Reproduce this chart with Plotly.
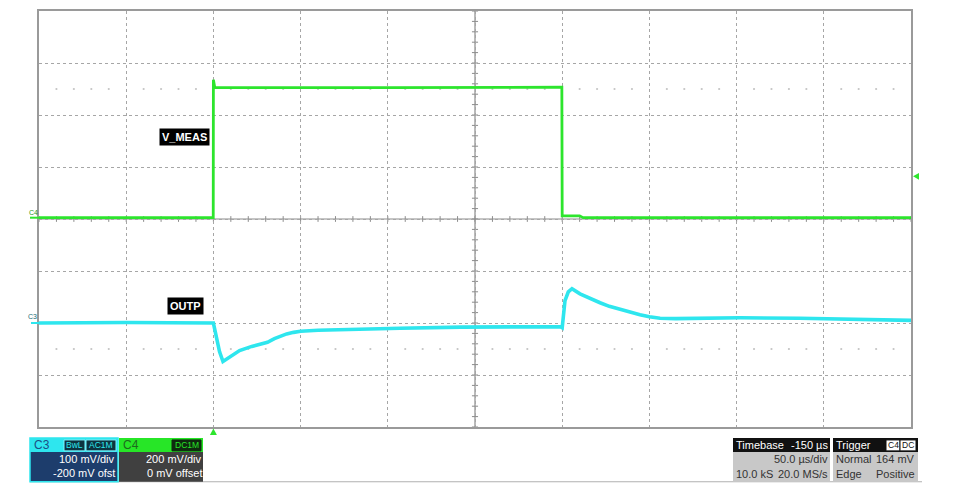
import plotly.graph_objects as go

# ---------------- data ----------------
# time in microseconds (trigger at t = 0), values in mV
t_c4 = [-100, -0.1, 0, 0.8, 100, 199.8, 200, 201, 210, 212, 300, 400]
v_c4 = [5, 5, 536, 505, 505, 507, 12, 12, 12, 5, 5, 5]

t_c3 = [-100, -50, 0, 1.5, 3.5, 5.5, 9, 15, 22, 31, 35, 38.6, 42, 46, 50, 60, 78, 107, 142, 199,
        200, 201.6, 203.5, 205.6, 210.2, 216, 221.7, 227, 233.2, 239, 244.6, 250, 256.1, 265,
        279, 302, 336, 370, 400]
v_c3 = [0, 1, 0, -24, -55, -74, -66, -53, -45, -37, -30, -25, -21, -18, -16, -14, -12, -10, -8,
        -7, -9, 43, 60, 66, 56, 47, 39, 32, 26, 20, 16, 12, 9, 8.5,
        9, 10, 9, 7, 5]

C3_SCALE, C3_OFFSET = 100, -200   # mV/div, mV
C4_SCALE, C4_OFFSET = 200, 0
TIME_DIV = 50                      # us/div
T_START = -100                     # left edge of screen (us)
TRIG_LEVEL = 164                   # mV on C4
N_XDIV, N_YDIV = 10, 8

y_c3 = [(v + C3_OFFSET) / C3_SCALE for v in v_c3]
y_c4 = [(v + C4_OFFSET) / C4_SCALE for v in v_c4]

T_END = T_START + N_XDIV * TIME_DIV
T_MID = (T_START + T_END) / 2

# ---------------- geometry helpers (page pixels) ----------------
OFF = 8                      # default page margin around the plot div
W, H = 953 - OFF, 498 - OFF
L, R, T, B = 39, 911, 9, 427
PW, PH = R - L, B - T


def px(x):
    return (x - L) / PW


def py(y):
    return (B - y) / PH


def tx(t):  # data time -> paper x
    return (t - T_START) / (T_END - T_START)


def dy(d):  # divisions -> paper y
    return (d + N_YDIV / 2) / N_YDIV


CYAN = "#2ee6ee"
GREEN = "#2de52d"
FONT = "Liberation Sans, Arial, sans-serif"

fig = go.Figure()

# rise-time dot rows at +/-2.5 div
dot_x, dot_y = [], []
for k in range(N_XDIV):
    for f in (0.2, 0.4, 0.6, 0.8):
        for yy in (2.5, -2.5):
            dot_x.append(T_START + (k + f) * TIME_DIV)
            dot_y.append(yy)
fig.add_trace(go.Scatter(x=dot_x, y=dot_y, mode="markers",
                         marker=dict(size=2.2, color="#c4c4c4"),
                         hoverinfo="skip", showlegend=False))

fig.add_trace(go.Scatter(x=t_c4, y=y_c4, mode="lines", name="V_MEAS",
                         line=dict(color=GREEN, width=2.8), showlegend=False))
fig.add_trace(go.Scatter(x=t_c3, y=y_c3, mode="lines", name="OUTP",
                         line=dict(color=CYAN, width=3.6), showlegend=False))

shapes = []
# centre cross
shapes.append(dict(type="line", xref="x", yref="y", x0=T_MID, x1=T_MID, y0=-4, y1=4,
                   line=dict(color="#8c8c8c", width=1.2), layer="below"))
shapes.append(dict(type="line", xref="x", yref="y", x0=T_START, x1=T_END, y0=0, y1=0,
                   line=dict(color="#8c8c8c", width=1.2), layer="below"))
# centre-cross ticks every 0.2 div
tick_h = 0.055
tick_w = 0.035 * TIME_DIV
for i in range(N_XDIV * 5 + 1):
    t = T_START + i * TIME_DIV / 5
    shapes.append(dict(type="line", xref="x", yref="y", x0=t, x1=t, y0=-tick_h, y1=tick_h,
                       line=dict(color="#8c8c8c", width=1), layer="below"))
for i in range(N_YDIV * 5 + 1):
    d = -N_YDIV / 2 + i * 0.2
    shapes.append(dict(type="line", xref="x", yref="y", x0=T_MID - tick_w, x1=T_MID + tick_w,
                       y0=d, y1=d, line=dict(color="#8c8c8c", width=1), layer="below"))

# channel ground stubs left of the grid
shapes.append(dict(type="line", xref="paper", yref="paper", x0=px(30), x1=px(39),
                   y0=dy(y_c4[0]), y1=dy(y_c4[0]), line=dict(color=GREEN, width=2)))
shapes.append(dict(type="line", xref="paper", yref="paper", x0=px(31), x1=px(39),
                   y0=dy(y_c3[0]), y1=dy(y_c3[0]), line=dict(color=CYAN, width=2)))

# trigger level marker (right) and trigger time marker (bottom)
ty = dy(TRIG_LEVEL / C4_SCALE)
shapes.append(dict(type="path", xref="paper", yref="paper", fillcolor=GREEN,
                   line=dict(color=GREEN, width=0),
                   path=f"M {px(913)},{ty} L {px(919)},{ty + 3.5 / PH} L {px(919)},{ty - 3.5 / PH} Z"))
txp = tx(0)
shapes.append(dict(type="path", xref="paper", yref="paper", fillcolor=GREEN,
                   line=dict(color=GREEN, width=0),
                   path=f"M {txp},{py(428.5)} L {txp - 3.5 / PW},{py(435)} L {txp + 3.5 / PW},{py(435)} Z"))


def rect(x0, y0, x1, y1, fill, line=None, lw=1):
    shapes.append(dict(type="rect", xref="paper", yref="paper",
                       x0=px(x0), x1=px(x1), y0=py(y1), y1=py(y0),
                       fillcolor=fill, line=dict(color=line or fill, width=lw if line else 0)))


anns = []


def text(x, y, s, color, anchor="left", size=11, bold=False):
    if bold:
        s = f"<b>{s}</b>"
    anns.append(dict(xref="paper", yref="paper", x=px(x), y=py(y), text=s,
                     showarrow=False, xanchor=anchor, yanchor="middle",
                     font=dict(color=color, size=size, family=FONT), borderpad=0))


# bottom info panel
shapes.append(dict(type="line", xref="paper", yref="paper", x0=px(30), x1=px(922),
                   y0=py(482), y1=py(482), line=dict(color="#b0b0b0", width=1.2)))

# C3 box
rect(30, 438, 118, 482, "#1d3d6c", CYAN, 1.5)
rect(30, 438, 118, 452, CYAN)
text(33, 445, "C3", "#1b4f86", size=12)
rect(64, 440, 85, 451, "#0d3440", "#7ff4ff", 1)
text(74.5, 445.5, "BwL", CYAN, "center", size=8.5)
rect(86, 440, 116, 451, "#0d3440", "#7ff4ff", 1)
text(101, 445.5, "AC1M", CYAN, "center", size=8.5)
text(116, 459, "100 mV/div", "#ffffff", "right")
text(116, 473, "-200 mV ofst", "#ffffff", "right")

# C4 box
rect(119, 438, 203, 482, "#404040")
rect(119, 438, 203, 452, "#27e627")
text(122, 445, "C4", "#1d6a1d", size=12)
rect(172, 440, 201, 451, "#0f2a0f", "#0f2a0f", 1)
text(186.5, 445.5, "DC1M", "#27e627", "center", size=8.5)
text(203, 459, "200 mV/div", "#ffffff", "right")
text(203, 473, "0 mV offset", "#ffffff", "right")

# Timebase box
rect(733, 438, 830, 482, "#c8c8c8")
rect(733, 438, 830, 452, "#111111")
text(735, 445, "Timebase", "#ffffff")
text(829, 445, "-150 µs", "#ffffff", "right")
text(829, 459, "50.0 µs/div", "#333333", "right")
text(735, 474, "10.0 kS", "#333333")
text(829, 474, "20.0 MS/s", "#333333", "right")

# Trigger box
rect(833, 438, 918, 482, "#c8c8c8")
rect(833, 438, 918, 452, "#111111")
text(835, 445, "Trigger", "#ffffff")
rect(886, 440, 900, 451, "#ffffff", "#111111", 1)
text(893, 445.5, "C4", "#111111", "center", size=8.5)
rect(900, 440, 916, 451, "#ffffff", "#111111", 1)
text(908, 445.5, "DC", "#111111", "center", size=8.5)
text(835, 459, "Normal", "#333333")
text(916, 459, "164 mV", "#333333", "right")
text(835, 474, "Edge", "#333333")
text(916, 474, "Positive", "#333333", "right")

# tiny channel tags left of the grid
text(28, 211, "C4", "#1f9a1f", size=7)
text(27, 315.5, "C3", "#1b6d77", size=7)

# trace labels
anns.append(dict(xref="x", yref="y", x=T_START + (184 - L) / PW * (T_END - T_START),
                 y=(218 - 135.5) / (PH / N_YDIV), text="<b>V_MEAS</b>", showarrow=False,
                 bgcolor="#000000", font=dict(color="#ffffff", size=11, family=FONT),
                 borderpad=2, xanchor="center", yanchor="middle"))
anns.append(dict(xref="x", yref="y", x=T_START + (185.5 - L) / PW * (T_END - T_START),
                 y=(218 - 305) / (PH / N_YDIV), text="<b>OUTP</b>", showarrow=False,
                 bgcolor="#000000", font=dict(color="#ffffff", size=11, family=FONT),
                 borderpad=2, xanchor="center", yanchor="middle"))

fig.update_layout(
    width=W, height=H,
    margin=dict(l=L - OFF, r=W - (R - OFF), t=T - OFF, b=H - (B - OFF)),
    paper_bgcolor="#ffffff", plot_bgcolor="#ffffff",
    shapes=shapes, annotations=anns,
    font=dict(family=FONT),
    xaxis=dict(range=[T_START, T_END], tick0=T_START, dtick=TIME_DIV,
               showticklabels=False, ticks="", showgrid=True, gridcolor="#a6a6a6",
               griddash="dot", gridwidth=1, zeroline=False,
               showline=True, mirror=True, linecolor="#9a9a9a", linewidth=1.5),
    yaxis=dict(range=[-N_YDIV / 2, N_YDIV / 2], tick0=0, dtick=1,
               showticklabels=False, ticks="", showgrid=True, gridcolor="#a6a6a6",
               griddash="dot", gridwidth=1, zeroline=False,
               showline=True, mirror=True, linecolor="#9a9a9a", linewidth=1.5),
)

fig.write_html("out.html")
